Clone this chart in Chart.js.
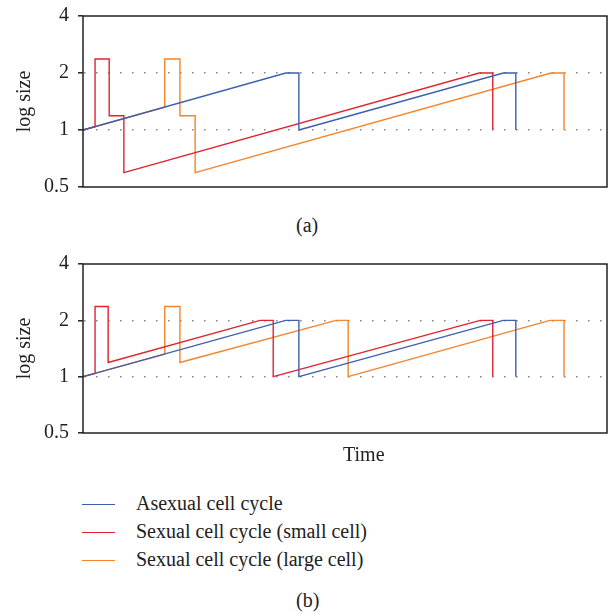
<!DOCTYPE html>
<html>
<head>
<meta charset="utf-8">
<script src="https://cdn.jsdelivr.net/npm/chart.js@4/dist/chart.umd.min.js"></script>
<style>
  body { margin: 0; background: #fff; }
  #wrap { position: relative; width: 608px; height: 613px; font-family: "Liberation Serif", "DejaVu Serif", serif; color: #222; }
  canvas { position: absolute; left: 0; }
  .lbl { position: absolute; font-size: 20px; line-height: 20px; white-space: nowrap; }
  .key { position: absolute; left: 82px; width: 33px; height: 0; border-top: 1.5px solid; }
</style>
</head>
<body>
<div id="wrap">
  <canvas id="chartA" width="608" height="200" style="top:0"></canvas>
  <canvas id="chartB" width="608" height="200" style="top:248px"></canvas>
  <div class="lbl" style="left:296px; top:215px">(a)</div>
  <div class="lbl" style="left:343px; top:444px">Time</div>
  <div class="key" style="top:504px; border-color:#3d5fae"></div>
  <div class="key" style="top:532px; border-color:#e2232f"></div>
  <div class="key" style="top:560px; border-color:#f5842a"></div>
  <div class="lbl" style="left:136px; top:493px">Asexual cell cycle</div>
  <div class="lbl" style="left:136px; top:521px">Sexual cell cycle (small cell)</div>
  <div class="lbl" style="left:136px; top:549px">Sexual cell cycle (large cell)</div>
  <div class="lbl" style="left:296px; top:590px">(b)</div>
</div>
<script>
// time in arbitrary units (0..100), size on log2 axis
const yTicks = [0.5, 1, 2, 4]

// panel (a)
const asexTimeA = [0, 38.7, 41.2, 41.2, 80.2, 82.6, 82.6]
const asexSizeA = [1, 2, 2, 1, 2, 2, 1]
const smallTimeA = [0, 2.3, 2.3, 5.0, 5.0, 7.8, 7.8, 75.6, 78.2, 78.2]
const smallSizeA = [1, 1.04, 2.37, 2.37, 1.19, 1.19, 0.595, 2, 2, 1]
const largeTimeA = [0, 15.6, 15.6, 18.5, 18.5, 21.4, 21.4, 89.3, 91.8, 91.8]
const largeSizeA = [1, 1.32, 2.37, 2.37, 1.19, 1.19, 0.595, 2, 2, 1]

// panel (b)
const asexTimeB = [0, 38.7, 41.2, 41.2, 80.2, 82.6, 82.6]
const asexSizeB = [1, 2, 2, 1, 2, 2, 1]
const smallTimeB = [0, 2.3, 2.3, 4.8, 4.8, 33.8, 36.3, 36.3, 75.8, 78.2, 78.2]
const smallSizeB = [1, 1.04, 2.37, 2.37, 1.19, 2, 2, 1, 2, 2, 1]
const largeTimeB = [0, 15.6, 15.6, 18.5, 18.5, 48.3, 50.6, 50.6, 89.1, 91.8, 91.8]
const largeSizeB = [1, 1.32, 2.37, 2.37, 1.19, 2, 2, 1, 2, 2, 1]

const blue = '#3d5fae', red = '#e2232f', orange = '#f5842a'

function pts(t, s) {
  return t.map((v, i) => ({ x: v, y: s[i] }))
}

// black frame round the plot area
const frame = {
  id: 'frame',
  afterDraw(chart) {
    const a = chart.chartArea, c = chart.ctx
    c.save()
    c.strokeStyle = '#222'
    c.lineWidth = 1.5
    c.strokeRect(a.left, a.top, a.right - a.left, a.bottom - a.top)
    c.restore()
  }
}

function makeChart(id, sets, padBottom) {
  const ds = sets.map(s => ({
    data: s[0], borderColor: s[1], borderWidth: 1.4,
    pointRadius: 0, tension: 0, fill: false
  }))
  return new Chart(document.getElementById(id), {
    type: 'line',
    data: { datasets: ds },
    plugins: [frame],
    options: {
      responsive: false,
      animation: false,
      layout: { padding: { top: 16, bottom: padBottom, right: 1, left: 0 } },
      plugins: { legend: { display: false }, tooltip: { enabled: false } },
      scales: {
        x: { type: 'linear', min: 0, max: 100, display: false },
        y: {
          type: 'logarithmic', min: 0.5, max: 4,
          afterBuildTicks: ax => { ax.ticks = yTicks.map(v => ({ value: v })) },
          afterFit: ax => { ax.width = 83; ax.paddingTop = 0; ax.paddingBottom = 0 },
          ticks: {
            padding: 9, color: '#222',
            font: { family: 'Liberation Serif', size: 20 },
            callback: v => String(v)
          },
          grid: {
            color: c => (c.tick && (c.tick.value === 1 || c.tick.value === 2)) ? '#8a8a8a' : 'rgba(0,0,0,0)',
            lineWidth: 1.6,
            tickColor: '#222', tickLength: 5, tickWidth: 1.5, tickBorderDash: []
          },
          border: { display: false, dash: [1.6, 10.4], dashOffset: -1 },
          title: {
            display: true, text: 'log size', color: '#222',
            font: { family: 'Liberation Serif', size: 20 }, padding: { top: 13, bottom: 0 }
          }
        }
      }
    }
  })
}

makeChart('chartA', [
  [pts(largeTimeA, largeSizeA), orange],
  [pts(smallTimeA, smallSizeA), red],
  [pts(asexTimeA, asexSizeA), blue]
].reverse(), 13)

makeChart('chartB', [
  [pts(largeTimeB, largeSizeB), orange],
  [pts(smallTimeB, smallSizeB), red],
  [pts(asexTimeB, asexSizeB), blue]
].reverse(), 15)
</script>
</body>
</html>
